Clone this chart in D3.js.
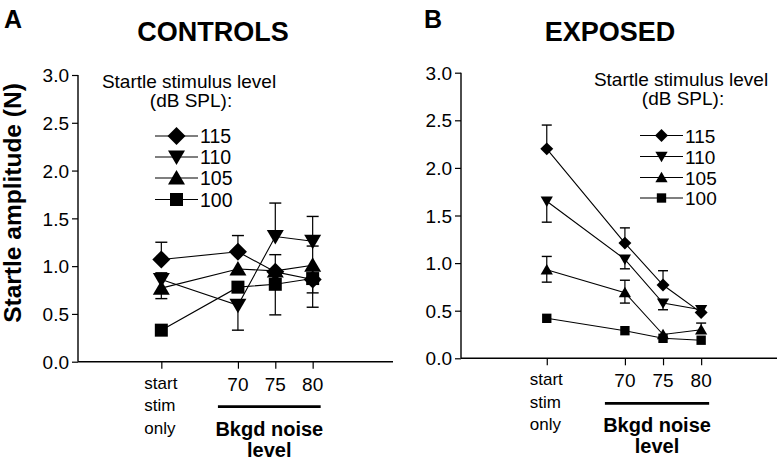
<!DOCTYPE html>
<html><head><meta charset="utf-8">
<script src="https://cdn.jsdelivr.net/npm/d3@7"></script>
<style>
html,body{margin:0;padding:0;background:#fff;}
svg{display:block;font-family:"Liberation Sans",Arial,Helvetica,sans-serif;}
</style></head>
<body>
<svg id="chart" width="780" height="463"></svg>
<script>
// ---------- DATA ----------
const categories = ["start stim only", "70", "75", "80"];
const levels = ["115", "110", "105", "100"];
const levelShapes = ["diamond", "triDown", "triUp", "square"];
const yTicks = [0, 0.5, 1.0, 1.5, 2.0, 2.5, 3.0];

// Controls (panel A)
const ctrl115 = [1.07, 1.15, 0.94, 0.86];
const ctrl110 = [0.86, 0.59, 1.31, 1.26];
const ctrl105 = [0.77, 0.97, 0.95, 1.01];
const ctrl100 = [0.33, 0.78, 0.81, 0.87];
const ctrl115Hi = [0.18, 0.17, 0.18, 0];
const ctrl110Hi = [0.07, 0, 0.35, 0.26];
const ctrl105Hi = [0, 0, 0, 0.20];
const ctrl100Hi = [0, 0, 0, 0];
const ctrl115Lo = [0, 0, 0, 0.14];
const ctrl110Lo = [0, 0.26, 0, 0];
const ctrl105Lo = [0.11, 0, 0, 0];
const ctrl100Lo = [0, 0, 0.32, 0.30];

// Exposed (panel B)
const expo115 = [2.20, 1.21, 0.77, 0.48];
const expo110 = [1.65, 1.04, 0.58, 0.51];
const expo105 = [0.93, 0.69, 0.25, 0.30];
const expo100 = [0.42, 0.29, 0.21, 0.19];
const expo115Hi = [0.25, 0.16, 0.15, 0];
const expo110Hi = [0, 0, 0, 0];
const expo105Hi = [0.14, 0.13, 0, 0.07];
const expo100Hi = [0, 0, 0, 0];
const expo115Lo = [0, 0, 0, 0];
const expo110Lo = [0.22, 0.10, 0.07, 0];
const expo105Lo = [0.13, 0.11, 0, 0];
const expo100Lo = [0, 0, 0, 0];

// ---------- LAYOUT ----------
const svg = d3.select("#chart");
const FONT = '"Liberation Sans",Arial,Helvetica,sans-serif';
const slot = [0, 2.05, 3.05, 4.05]; // horizontal slot of each category

function shape(type, k) {
  const d = 9 * k, tw = 8.5 * k, th = 14.5 * k, sq = 6.5 * k;
  switch (type) {
    case "diamond": return `M0,${-d}L${d},0L0,${d}L${-d},0Z`;
    case "triDown": return `M${-tw},${-th * 0.45}L${tw},${-th * 0.45}L0,${th * 0.55}Z`;
    case "triUp": return `M${-tw},${th * 0.45}L${tw},${th * 0.45}L0,${-th * 0.55}Z`;
    case "square": return `M${-sq},${-sq}H${sq}V${sq}H${-sq}Z`;
  }
}

function drawPanel(cfg) {
  const g = svg.append("g");
  const x = d3.scaleLinear().domain(cfg.xDomain).range(cfg.xRange);
  const y = d3.scaleLinear().domain([0, 3]).range(cfg.yRange);
  const axisY = cfg.yRange[0];
  const xAt = i => x(slot[i]);

  // y axis
  const ya = g.append("g").attr("transform", `translate(${cfg.xRange[0]},0)`)
    .call(d3.axisLeft(y).tickValues(yTicks).tickFormat(d3.format(".1f")).tickSize(6).tickPadding(3));
  ya.select(".domain").attr("stroke-width", 1.4).attr("d", `M0,${cfg.yRange[1]}V${axisY}`);
  ya.selectAll(".tick line").attr("stroke-width", 1.2);
  ya.selectAll(".tick text").attr("font-size", 19).attr("font-family", FONT).attr("fill", "#000").attr("dy", "0.35em");

  // x axis
  const xa = g.append("g").attr("transform", `translate(0,${axisY})`)
    .call(d3.axisBottom(x).tickValues(slot).tickSize(7).tickFormat(""));
  xa.select(".domain").attr("stroke-width", 1.4).attr("d", `M${cfg.xRange[0]},0H${cfg.xRange[1]}`);
  xa.selectAll(".tick line").attr("stroke-width", 1.2);

  // category labels
  const stLines = categories[0].split(" ");
  stLines.forEach((t, j) => {
    g.append("text").attr("x", xAt(0) - 17).attr("y", axisY + 27 + j * 22.5)
      .attr("font-size", 17).attr("font-family", FONT).text(t);
  });
  for (let i = 1; i < categories.length; i++) {
    g.append("text").attr("x", xAt(i)).attr("y", axisY + 29).attr("text-anchor", "middle")
      .attr("font-size", 19).attr("font-family", FONT).text(categories[i]);
  }
  g.append("line").attr("x1", xAt(1) - 20).attr("x2", xAt(3) + 8)
    .attr("y1", axisY + 45).attr("y2", axisY + 45).attr("stroke", "#000").attr("stroke-width", 2.8);
  const mid = (xAt(1) - 20 + xAt(3) + 8) / 2;
  g.append("text").attr("x", mid).attr("y", axisY + 74).attr("text-anchor", "middle")
    .attr("font-size", 20).attr("font-weight", "bold").attr("font-family", FONT).text("Bkgd noise");
  g.append("text").attr("x", mid).attr("y", axisY + 95).attr("text-anchor", "middle")
    .attr("font-size", 20).attr("font-weight", "bold").attr("font-family", FONT).text("level");

  // error bars
  cfg.series.forEach(s => {
    s.values.forEach((v, i) => {
      const cx = xAt(i);
      [[s.hi[i], 1], [s.lo[i], -1]].forEach(([e, sign]) => {
        if (!e) return;
        const ye = y(v + sign * e);
        g.append("line").attr("x1", cx).attr("x2", cx).attr("y1", y(v)).attr("y2", ye)
          .attr("stroke", "#000").attr("stroke-width", 1.2);
        g.append("line").attr("x1", cx - cfg.cap).attr("x2", cx + cfg.cap).attr("y1", ye).attr("y2", ye)
          .attr("stroke", "#000").attr("stroke-width", 1.4);
      });
    });
  });
  // lines
  const line = d3.line().x((d, i) => xAt(i)).y(d => y(d));
  cfg.series.forEach(s => {
    g.append("path").attr("d", line(s.values)).attr("fill", "none").attr("stroke", "#000").attr("stroke-width", 1.1);
  });
  // markers
  cfg.series.forEach(s => {
    s.values.forEach((v, i) => {
      g.append("path").attr("d", shape(s.shape, cfg.mk)).attr("transform", `translate(${xAt(i)},${y(v)})`).attr("fill", "#000");
    });
  });

  // legend
  const L = cfg.legend;
  g.append("text").attr("x", L.titleX).attr("y", L.titleY).attr("text-anchor", "middle")
    .attr("font-size", 19).attr("font-family", FONT).text("Startle stimulus level");
  g.append("text").attr("x", L.titleX + 2).attr("y", L.titleY + 19).attr("text-anchor", "middle")
    .attr("font-size", 19).attr("font-family", FONT).text("(dB SPL):");
  levels.forEach((lv, j) => {
    const ly = L.rows[j];
    g.append("line").attr("x1", L.x0).attr("x2", L.x1).attr("y1", ly).attr("y2", ly)
      .attr("stroke", "#000").attr("stroke-width", 1.1);
    g.append("path").attr("d", shape(levelShapes[j], cfg.mk)).attr("transform", `translate(${(L.x0 + L.x1) / 2},${ly})`).attr("fill", "#000");
    g.append("text").attr("x", L.x1 + 2).attr("y", ly + 7).attr("font-size", L.fs).attr("font-family", FONT).text(lv);
  });

  // titles
  g.append("text").attr("x", cfg.letterX).attr("y", 28).attr("font-size", 25).attr("font-weight", "bold")
    .attr("font-family", FONT).text(cfg.letter);
  g.append("text").attr("x", cfg.titleX).attr("y", 41).attr("text-anchor", "middle").attr("font-size", 27)
    .attr("font-weight", "bold").attr("font-family", FONT).text(cfg.title);
}

function mkSeries(vals, his, los) {
  return levels.map((lv, j) => ({ level: lv, shape: levelShapes[j], values: vals[j], hi: his[j], lo: los[j] }));
}

drawPanel({
  letter: "A", letterX: 4, title: "CONTROLS", titleX: 213,
  xRange: [78, 393], xDomain: [-2.23, 6.2], yRange: [361.7, 75],
  mk: 1, cap: 6,
  series: mkSeries([ctrl115, ctrl110, ctrl105, ctrl100], [ctrl115Hi, ctrl110Hi, ctrl105Hi, ctrl100Hi], [ctrl115Lo, ctrl110Lo, ctrl105Lo, ctrl100Lo]),
  legend: { titleX: 189, titleY: 88, x0: 155, x1: 198, rows: [136, 157, 178, 199.5], fs: 19.5 }
});
drawPanel({
  letter: "B", letterX: 424, title: "EXPOSED", titleX: 610,
  xRange: [461, 777], xDomain: [-2.25, 6.04], yRange: [358.3, 72.7],
  mk: 0.72, cap: 5,
  series: mkSeries([expo115, expo110, expo105, expo100], [expo115Hi, expo110Hi, expo105Hi, expo100Hi], [expo115Lo, expo110Lo, expo105Lo, expo100Lo]),
  legend: { titleX: 681, titleY: 86, x0: 640, x1: 683, rows: [135.5, 156.5, 177.5, 198], fs: 19 }
});

// shared y-axis title
svg.append("text").attr("transform", "translate(21,203) rotate(-90)").attr("text-anchor", "middle")
  .attr("font-size", 24.5).attr("font-weight", "bold").attr("font-family", FONT).text("Startle amplitude (N)");
</script>
</body></html>
